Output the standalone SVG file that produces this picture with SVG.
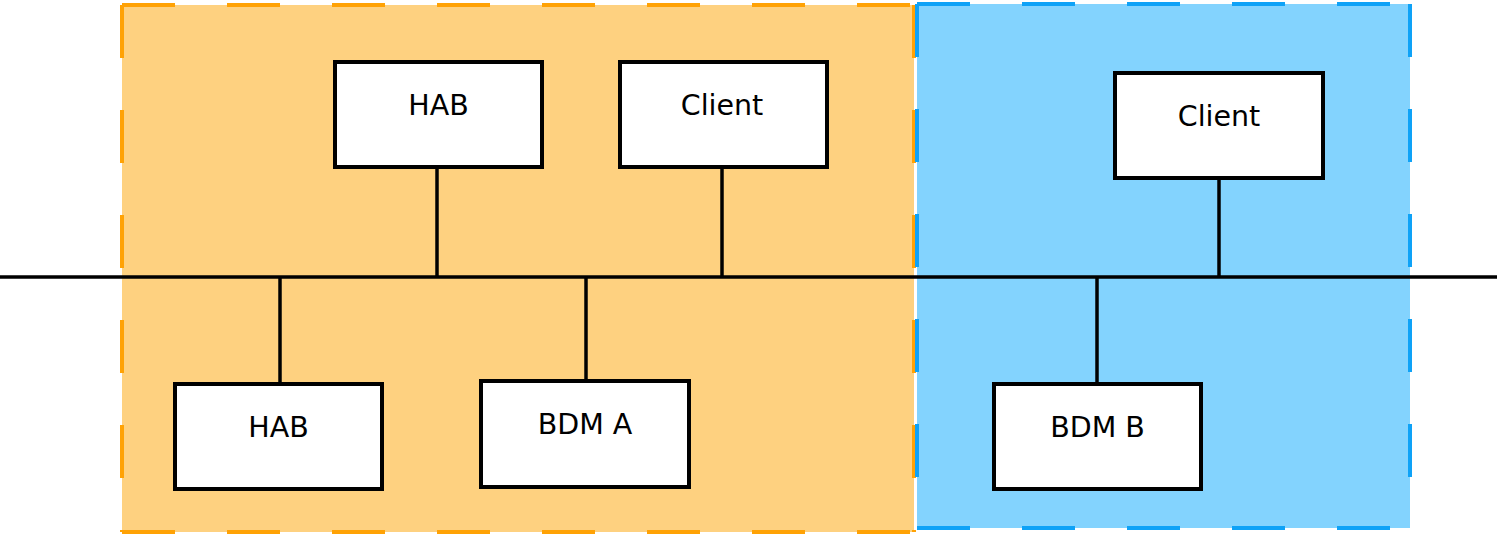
<svg xmlns="http://www.w3.org/2000/svg" width="1500" height="542" viewBox="0 0 1500 542">
<style>
.zone-o{fill:#fed180;}
.zone-b{fill:#83d3fe;}
.box{fill:#fff;stroke:#000;stroke-width:4;}
.lbl{font-family:"DejaVu Sans",sans-serif;font-size:28.5px;text-anchor:middle;fill:#000;}
.wire{stroke:#000;stroke-width:3.5;fill:none;}
</style>
<rect width="1500" height="542" fill="#fff"/>
<g id="zone-a">
<rect class="zone-o" x="122" y="5" width="792" height="527"/>
<g stroke="#ffa205" stroke-width="4" stroke-dasharray="53,52" fill="none">
<path d="M122 5 H914"/>
<path d="M122 5 V532"/>
<path d="M122 532 H914"/>
<path d="M914 5 V532"/>
</g>
</g>
<g id="zone-b">
<rect class="zone-b" x="917" y="4" width="493" height="524"/>
<g stroke="#0ea2f7" stroke-width="4" stroke-dasharray="53,52" fill="none">
<path d="M917 4 H1410"/>
<path d="M917 4 V528"/>
<path d="M917 528 H1410"/>
<path d="M1410 4 V528"/>
</g>
</g>
<g id="connectors">
<line class="wire" x1="0" y1="277" x2="1497" y2="277"/>
<line class="wire" x1="437" y1="167" x2="437" y2="277"/>
<line class="wire" x1="722" y1="167" x2="722" y2="277"/>
<line class="wire" x1="1219" y1="178" x2="1219" y2="277"/>
<line class="wire" x1="280" y1="277" x2="280" y2="384"/>
<line class="wire" x1="586" y1="277" x2="586" y2="381"/>
<line class="wire" x1="1097" y1="277" x2="1097" y2="384"/>
</g>
<g id="hab-top">
<rect class="box" x="335" y="62" width="207" height="105"/>
<text class="lbl" x="438.5" y="115">HAB</text>
</g>
<g id="client-a">
<rect class="box" x="620" y="62" width="207" height="105"/>
<text class="lbl" x="722" y="115">Client</text>
</g>
<g id="client-b">
<rect class="box" x="1115" y="73" width="208" height="105"/>
<text class="lbl" x="1219" y="126">Client</text>
</g>
<g id="hab-bottom">
<rect class="box" x="175" y="384" width="207" height="105"/>
<text class="lbl" x="278.5" y="437">HAB</text>
</g>
<g id="bdm-a">
<rect class="box" x="481" y="381" width="208" height="106"/>
<text class="lbl" x="585" y="434">BDM A</text>
</g>
<g id="bdm-b">
<rect class="box" x="994" y="384" width="207" height="105"/>
<text class="lbl" x="1097.5" y="437">BDM B</text>
</g>
</svg>
